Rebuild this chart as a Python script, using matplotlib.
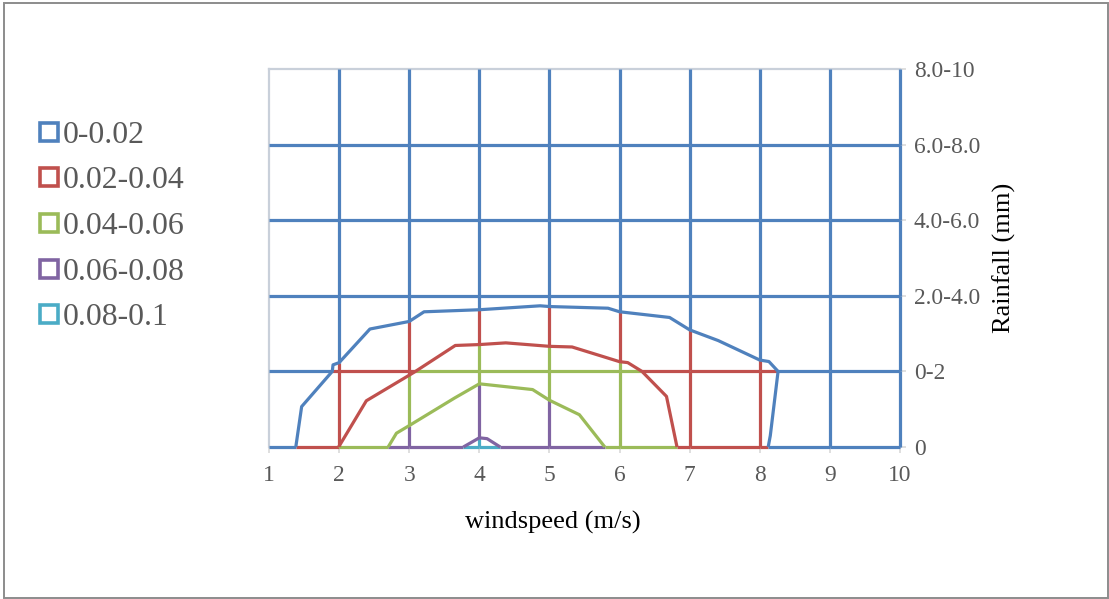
import numpy as np
import matplotlib
matplotlib.use("Agg")
import matplotlib.pyplot as plt
from matplotlib.tri import Triangulation
from matplotlib.collections import LineCollection
from matplotlib.lines import Line2D
from matplotlib.patches import Rectangle

# ---- data -------------------------------------------------------------
windspeed = [1, 2, 3, 4, 5, 6, 7, 8, 9, 10]
rainfall_labels = ["0", "0-2", "2.0-4.0", "4.0-6.0", "6.0-8.0", "8.0-10"]

# frequency per windspeed, one list per rainfall class
rain_0 = [0.0075, 0.0402, 0.0685, 0.0834, 0.0720, 0.0568, 0.0363, 0.0215, 0.0090, 0.0030]
rain_0_2 = [0.0024, 0.0219, 0.0385, 0.0554, 0.0526, 0.0439, 0.0317, 0.0230, 0.0115, 0.0040]
rain_2_4 = [0.0000, 0.0055, 0.0105, 0.0120, 0.0146, 0.0136, 0.0104, 0.0030, 0.0000, 0.0000]
rain_4_6 = [0.0, 0.0, 0.0, 0.0, 0.0, 0.0, 0.0, 0.0, 0.0, 0.0]
rain_6_8 = [0.0, 0.0, 0.0, 0.0, 0.0, 0.0, 0.0, 0.0, 0.0, 0.0]
rain_8_10 = [0.0, 0.0, 0.0, 0.0, 0.0, 0.0, 0.0, 0.0, 0.0, 0.0]

band_labels = ["0-0.02", "0.02-0.04", "0.04-0.06", "0.06-0.08", "0.08-0.1"]
band_edges = [0.0, 0.02, 0.04, 0.06, 0.08, 0.10]
band_colors = ["#4F81BD", "#C0504D", "#9BBB59", "#8064A2", "#4BACC6"]

# ---- styling ----------------------------------------------------------
plt.rcParams["font.family"] = ["Liberation Serif", "DejaVu Serif"]
W, H = 1109, 599
LW = 2.3
TICK_GREY = "#595959"
FRAME_GREY = "#C9D0DA"

fig = plt.figure(figsize=(W / 100, H / 100), dpi=100)
ax = fig.add_axes([269 / W, 1 - 447 / H, (900 - 269) / W, (447 - 69) / H])

Z = np.array([rain_0, rain_0_2, rain_2_4, rain_4_6, rain_6_8, rain_8_10])
nrow, ncol = Z.shape
rows = np.arange(nrow)
X, Y = np.meshgrid(np.array(windspeed, dtype=float), rows.astype(float))
xf, yf, zf = X.ravel(), Y.ravel(), Z.ravel()

# split every cell along the diagonal carrying the larger value sum
triangles = []
for j in range(nrow - 1):
    for i in range(ncol - 1):
        a = j * ncol + i
        b = a + 1
        c = a + ncol
        d = c + 1
        if zf[a] + zf[d] >= zf[b] + zf[c]:
            triangles += [[a, b, d], [a, d, c]]
        else:
            triangles += [[a, b, c], [b, d, c]]
tri = Triangulation(xf, yf, np.array(triangles))


def band_of(v):
    k = np.searchsorted(band_edges, v, side="right") - 1
    return int(np.clip(k, 0, len(band_colors) - 1))


def wire_pieces(p0, p1, z0, z1):
    ts = [0.0, 1.0]
    for lev in band_edges[1:-1]:
        if (z0 - lev) * (z1 - lev) < 0:
            ts.append((lev - z0) / (z1 - z0))
    ts.sort()
    out = []
    for t0, t1 in zip(ts[:-1], ts[1:]):
        zm = z0 + 0.5 * (t0 + t1) * (z1 - z0)
        q0 = (p0[0] + t0 * (p1[0] - p0[0]), p0[1] + t0 * (p1[1] - p0[1]))
        q1 = (p0[0] + t1 * (p1[0] - p0[0]), p0[1] + t1 * (p1[1] - p0[1]))
        out.append(((q0, q1), band_colors[band_of(zm)]))
    return out


segs, cols = [], []
# horizontal wires (top row is the plot frame)
for j in range(nrow - 1):
    for i in range(ncol - 1):
        for s, c in wire_pieces((windspeed[i], j), (windspeed[i + 1], j), Z[j, i], Z[j, i + 1]):
            segs.append(s)
            cols.append(c)
# vertical wires (first column is the plot frame)
for i in range(1, ncol):
    for j in range(nrow - 1):
        for s, c in wire_pieces((windspeed[i], j), (windspeed[i], j + 1), Z[j, i], Z[j + 1, i]):
            segs.append(s)
            cols.append(c)

wires = LineCollection(segs, colors=cols, linewidths=LW, zorder=3, capstyle="butt")
wires.set_clip_on(False)
ax.add_collection(wires)
cs = ax.tricontour(tri, zf, levels=band_edges[1:-1], colors=band_colors[:4],
                   linewidths=LW, zorder=4)
cs.set_clip_on(False)

ax.set_xlim(windspeed[0], windspeed[-1])
ax.set_ylim(0, nrow - 1)
ax.set_xticks(windspeed)
ax.set_xticklabels([str(v) for v in windspeed])
ax.set_yticks(rows)
ax.set_yticklabels(rainfall_labels)
ax.yaxis.tick_right()

for side in ("bottom", "right"):
    ax.spines[side].set_visible(False)
for side in ("left", "top"):
    ax.spines[side].set_color(FRAME_GREY)
    ax.spines[side].set_linewidth(1.6)

ax.tick_params(axis="x", length=4, width=1.2, color="#D9D9D9", pad=9,
               labelsize=16.9, labelcolor=TICK_GREY)
ax.tick_params(axis="y", length=4, width=1.2, color="#D9D9D9", pad=6,
               labelsize=16.9, labelcolor=TICK_GREY)

fig.text(553 / W, 1 - 522 / H, "windspeed (m/s)", fontsize=19, color="black",
         ha="center", va="center")
fig.text(1004 / W, 1 - 258 / H, "Rainfall (mm)", fontsize=19, color="black",
         ha="center", va="center", rotation=90)

# legend
leg_y0, leg_dy = 132, 45.5
for k, (lab, col) in enumerate(zip(band_labels, band_colors)):
    yy = 1 - (leg_y0 + k * leg_dy) / H
    fig.add_artist(Line2D([48.8 / W], [yy], marker="s", markersize=12.5,
                          markerfacecolor="white", markeredgecolor=col,
                          markeredgewidth=2.6, linestyle="none"))
    fig.text(63 / W, yy, lab, fontsize=22.9, color=TICK_GREY, ha="left",
             va="center_baseline")

# chart border
fig.add_artist(Rectangle((3.5 / W, 1.5 / H), (1107.5 - 3.5) / W, (596.5 - 1.5) / H,
                         transform=fig.transFigure, fill=False,
                         edgecolor="#8C8C8C", linewidth=1.4))

fig.savefig("out.png", dpi=100, facecolor="white")
